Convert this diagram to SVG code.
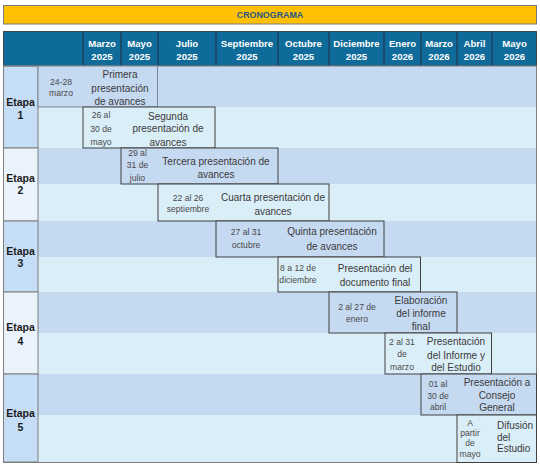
<svg xmlns="http://www.w3.org/2000/svg" width="540" height="465" viewBox="0 0 540 465">
<style>
.t{font-family:"Liberation Sans",Arial,sans-serif;fill:#3a3a3a;text-anchor:middle;}
.m{font-size:10px;}
.d{font-size:8.6px;fill:#4a4a4a;}
.h{font-family:"Liberation Sans",Arial,sans-serif;font-size:9.6px;font-weight:bold;fill:#ffffff;text-anchor:middle;}
.e{font-family:"Liberation Sans",Arial,sans-serif;font-size:10.5px;font-weight:bold;fill:#1a1a1a;text-anchor:middle;}
.box{stroke:#404040;stroke-width:1;}
.ra{fill:#C5D9F1;}
.rb{fill:#DAEEF8;}
.sep{stroke:#1E3A52;stroke-width:1.2;}
</style>
<rect width="540" height="465" fill="#ffffff"/>
<g id="title">
<rect x="3.5" y="5.5" width="533" height="18.5" fill="#FFC000" stroke="#7A7A7A" stroke-width="1"/>
<text x="270" y="18.3" font-family="Liberation Sans,Arial,sans-serif" font-size="8.9" font-weight="bold" fill="#1F5A8A" text-anchor="middle">CRONOGRAMA</text>
</g>
<g id="header">
<rect x="3.5" y="31.5" width="533" height="34.5" fill="#0F6B99" stroke="#3A4A55" stroke-width="1"/>
<g class="sep">
<line x1="83" y1="31.5" x2="83" y2="66"/><line x1="121" y1="31.5" x2="121" y2="66"/>
<line x1="158" y1="31.5" x2="158" y2="66"/><line x1="216" y1="31.5" x2="216" y2="66"/>
<line x1="278" y1="31.5" x2="278" y2="66"/><line x1="329" y1="31.5" x2="329" y2="66"/>
<line x1="384" y1="31.5" x2="384" y2="66"/><line x1="421" y1="31.5" x2="421" y2="66"/>
<line x1="457" y1="31.5" x2="457" y2="66"/><line x1="492" y1="31.5" x2="492" y2="66"/>
</g>
<text class="h" x="102" y="46.5">Marzo</text><text class="h" x="102" y="60">2025</text>
<text class="h" x="139.5" y="46.5">Mayo</text><text class="h" x="139.5" y="60">2025</text>
<text class="h" x="187" y="46.5">Julio</text><text class="h" x="187" y="60">2025</text>
<text class="h" x="247" y="46.5">Septiembre</text><text class="h" x="247" y="60">2025</text>
<text class="h" x="303.5" y="46.5">Octubre</text><text class="h" x="303.5" y="60">2025</text>
<text class="h" x="356.5" y="46.5">Diciembre</text><text class="h" x="356.5" y="60">2025</text>
<text class="h" x="402.5" y="46.5">Enero</text><text class="h" x="402.5" y="60">2026</text>
<text class="h" x="439" y="46.5">Marzo</text><text class="h" x="439" y="60">2026</text>
<text class="h" x="474.5" y="46.5">Abril</text><text class="h" x="474.5" y="60">2026</text>
<text class="h" x="514.5" y="46.5">Mayo</text><text class="h" x="514.5" y="60">2026</text>
</g>
<g id="rows">
<rect class="ra" x="38" y="66" width="499" height="41"/>
<rect class="rb" x="38" y="107" width="499" height="41"/>
<rect class="ra" x="38" y="148" width="499" height="36"/>
<rect class="rb" x="38" y="184" width="499" height="37"/>
<rect class="ra" x="38" y="221" width="499" height="36"/>
<rect class="rb" x="38" y="257" width="499" height="35"/>
<rect class="ra" x="38" y="292" width="499" height="41"/>
<rect class="rb" x="38" y="333" width="499" height="41"/>
<rect class="ra" x="38" y="374" width="499" height="41"/>
<rect class="rb" x="38" y="415" width="499" height="47"/>
</g>
<g id="etapas" stroke="#7F7F7F" stroke-width="1">
<rect x="3.5" y="66" width="34.5" height="82" fill="#C6DDF6"/>
<rect x="3.5" y="148" width="34.5" height="73" fill="#EAF3FC"/>
<rect x="3.5" y="221" width="34.5" height="71" fill="#C6DDF6"/>
<rect x="3.5" y="292" width="34.5" height="82" fill="#EAF3FC"/>
<rect x="3.5" y="374" width="34.5" height="88" fill="#C6DDF6"/>
</g>
<g id="etapa1"><text class="e" x="20.5" y="105.5">Etapa</text><text class="e" x="20.5" y="118.5">1</text></g>
<g id="etapa2"><text class="e" x="20.5" y="181.5">Etapa</text><text class="e" x="20.5" y="194">2</text></g>
<g id="etapa3"><text class="e" x="20.5" y="254.5">Etapa</text><text class="e" x="20.5" y="267">3</text></g>
<g id="etapa4"><text class="e" x="20.5" y="331">Etapa</text><text class="e" x="20.5" y="344.5">4</text></g>
<g id="etapa5"><text class="e" x="20.5" y="417">Etapa</text><text class="e" x="20.5" y="430.5">5</text></g>
<rect x="3.5" y="66" width="533" height="396.5" fill="none" stroke="#7F7F7F" stroke-width="1"/>
<g id="task1">
<rect class="ra" x="38" y="66" width="119.5" height="41" stroke="#7A8796" stroke-width="1"/>
<text class="t d" x="61" y="85">24-28</text><text class="t d" x="61" y="96">marzo</text>
<text class="t m" x="120" y="78">Primera</text><text class="t m" x="120" y="91.5">presentación</text><text class="t m" x="120" y="104.5">de avances</text>
</g>
<g id="task2">
<rect class="box rb" x="83" y="107" width="132" height="41"/>
<text class="t d" x="101" y="118">26 al</text><text class="t d" x="101" y="131.5">30 de</text><text class="t d" x="101" y="145">mayo</text>
<text class="t m" x="168" y="119.5">Segunda</text><text class="t m" x="168" y="132">presentación de</text><text class="t m" x="168" y="145.5">avances</text>
</g>
<g id="task3">
<rect class="box ra" x="121" y="148" width="157" height="36"/>
<text class="t d" x="137.5" y="156">29 al</text><text class="t d" x="137.5" y="168">31 de</text><text class="t d" x="137.5" y="180.5">julio</text>
<text class="t m" x="216" y="164.5">Tercera presentación de</text><text class="t m" x="216" y="177.5">avances</text>
</g>
<g id="task4">
<rect class="box rb" x="158" y="184" width="171" height="37"/>
<text class="t d" x="188" y="200.5">22 al 26</text><text class="t d" x="188" y="212">septiembre</text>
<text class="t m" x="273" y="200.5">Cuarta presentación de</text><text class="t m" x="273" y="214.5">avances</text>
</g>
<g id="task5">
<rect class="box ra" x="216" y="221" width="168" height="36"/>
<text class="t d" x="246" y="234.5">27 al 31</text><text class="t d" x="246" y="247.5">octubre</text>
<text class="t m" x="332" y="234.5">Quinta presentación</text><text class="t m" x="332" y="249.5">de avances</text>
</g>
<g id="task6">
<rect class="box rb" x="278" y="257" width="142.5" height="35"/>
<text class="t d" x="298" y="271">8 a 12 de</text><text class="t d" x="298" y="283">diciembre</text>
<text class="t m" x="375" y="271.5">Presentación del</text><text class="t m" x="375" y="286">documento final</text>
</g>
<g id="task7">
<rect class="box ra" x="329" y="292" width="128" height="41"/>
<text class="t d" x="357" y="310">2 al 27 de</text><text class="t d" x="357" y="322">enero</text>
<text class="t m" x="421" y="303.5">Elaboración</text><text class="t m" x="421" y="316.5">del informe</text><text class="t m" x="421" y="329.5">final</text>
</g>
<g id="task8">
<rect class="box rb" x="385" y="333" width="106.5" height="41"/>
<text class="t d" x="402" y="345">2 al 31</text><text class="t d" x="402" y="357">de</text><text class="t d" x="402" y="370">marzo</text>
<text class="t m" x="456" y="345">Presentación</text><text class="t m" x="456" y="358.5">del Informe y</text><text class="t m" x="456" y="371">del Estudio</text>
</g>
<g id="task9">
<rect class="box ra" x="421" y="374" width="115.5" height="41"/>
<text class="t d" x="438" y="387">01 al</text><text class="t d" x="438" y="398.5">30 de</text><text class="t d" x="438" y="410">abril</text>
<text class="t m" x="497" y="385.5">Presentación a</text><text class="t m" x="497" y="398.5">Consejo</text><text class="t m" x="497" y="411">General</text>
</g>
<g id="task10">
<rect class="box rb" x="457" y="415" width="79.5" height="47.5"/>
<text class="t d" x="470" y="426">A</text><text class="t d" x="470" y="436">partir</text><text class="t d" x="470" y="446">de</text><text class="t d" x="470" y="456.5">mayo</text>
<text class="t m" x="497" y="428.5" style="text-anchor:start">Difusión</text><text class="t m" x="497" y="440.5" style="text-anchor:start">del</text><text class="t m" x="497" y="452" style="text-anchor:start">Estudio</text>
</g>
<g id="connectors"/>
</svg>
